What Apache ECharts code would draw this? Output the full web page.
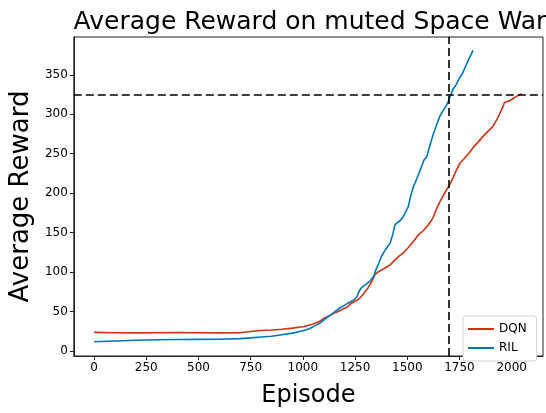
<!DOCTYPE html>
<html>
<head>
<meta charset="utf-8">
<script src="https://cdn.jsdelivr.net/npm/echarts@6/dist/echarts.min.js"></script>
<style>
html,body{margin:0;padding:0;background:#fff;}
#main{width:546px;height:413px;}
</style>
</head>
<body>
<div id="main"></div>
<script>
// 数据
var dqnX = [0,100,200,300,400,500,600,700,750,800,850,900,950,1000,1050,1080,1100,1130,1150,1170,1190,1210,1230,1250,1270,1290,1310,1330,1346,1360,1380,1400,1418,1440,1465,1480,1505,1530,1553,1575,1595,1610,1625,1640,1656,1670,1685,1704,1720,1735,1752,1770,1790,1816,1840,1863,1885,1911,1930,1945,1959,1965,1975,1990,2007,2025,2047];
var dqnY = [23.5,23,22.8,23,23.2,23,22.8,23,24.5,25.8,26.5,27.5,28.8,30.5,34,37.5,41,45,48,50,53,55,60,63,66,72,79,88,97,100,103,106,109,115,121,124,131,139,147,152,158,163,170,180,189,196,203,211,220,229,238,243,249,258,265,272,278,285,294,302,310,315,316,317,320,323,326];

var rilX = [0,100,200,300,400,500,600,700,750,800,850,900,950,1000,1030,1060,1080,1100,1120,1140,1160,1180,1200,1220,1240,1258,1268,1280,1300,1320,1338,1350,1365,1378,1395,1418,1430,1441,1465,1480,1505,1515,1529,1545,1569,1580,1593,1610,1625,1641,1655,1672,1685,1696,1708,1720,1735,1752,1765,1776,1795,1815];
var rilY = [11.5,12.5,13.5,14.2,14.5,14.6,14.8,15.5,16.5,17.5,18.5,20.5,22.5,25.5,28,32,35,39,43,47,51,55,58,61,64,68,75,80,84,88,94,103,112,121,128,137,147,160,165,170,183,195,208,218,234,242,246,262,275,287,297,305,310,316,325,332,338,347,352,359,370,381];

var xTicks = [0,250,500,750,1000,1250,1500,1750,2000];
var yTicks = [0,50,100,150,200,250,300,350];
var targetReward = 325;
var targetEpisode = 1700;

function pairs(xs, ys){
	var out = [];
	for (var i = 0; i < xs.length; i++) {
		out.push([xs[i], ys[i]]);
	}
	return out;
};

var font = 'DejaVu Sans';
var frame = '#222';
var myChart = echarts.init(document.getElementById('main'));
var option = {
	animation: false,
	title: {
		text: 'Average Reward on muted Space War',
		left: 305,
		textAlign: 'center',
		top: 5,
		textStyle: {fontFamily: font, fontSize: 25, fontWeight: 'normal', color: '#000'}
	},
	grid: {
		left: 73, right: 3, top: 37, bottom: 50,
		show: true, borderColor: frame, borderWidth: 1
	},
	legend: {
		orient: 'vertical',
		left: 463, top: 316,
		icon: 'rect',
		itemWidth: 26, itemHeight: 2,
		itemGap: 7,
		padding: [7, 10, 7, 5],
		borderColor: '#d0d0d0', borderWidth: 1, borderRadius: 3,
		backgroundColor: '#fff',
		textStyle: {fontFamily: font, fontSize: 12, color: '#000'},
		data: ['DQN', 'RIL']
	},
	xAxis: {
		type: 'value',
		min: -97, max: 2150,
		name: 'Episode',
		nameLocation: 'middle',
		nameGap: 28,
		nameTextStyle: {fontFamily: font, fontSize: 24, color: '#000'},
		splitLine: {show: false},
		axisLine: {show: true, onZero: false, lineStyle: {color: frame}},
		axisTick: {show: true, inside: false, length: 4, customValues: xTicks, lineStyle: {color: frame}},
		axisLabel: {
			customValues: xTicks, margin: 6, fontFamily: font, fontSize: 12, color: '#000',
			formatter: function(v){ return String(v); }
		}
	},
	yAxis: {
		type: 'value',
		min: -6.5, max: 398,
		name: 'Average Reward',
		nameLocation: 'middle',
		nameRotate: 90,
		nameGap: 32,
		nameTextStyle: {fontFamily: font, fontSize: 26, color: '#000'},
		splitLine: {show: false},
		axisLine: {show: true, onZero: false, lineStyle: {color: frame}},
		axisTick: {show: true, inside: false, length: 4, customValues: yTicks, lineStyle: {color: frame}},
		axisLabel: {
			customValues: yTicks, margin: 6, fontFamily: font, fontSize: 12, color: '#000',
			formatter: function(v){ return String(v); }
		}
	},
	series: [
		{
			name: 'DQN',
			type: 'line',
			showSymbol: false,
			color: '#cc3311',
			lineStyle: {width: 1.6},
			data: pairs(dqnX, dqnY),
			markLine: {
				silent: true,
				symbol: ['none', 'none'],
				label: {show: false},
				lineStyle: {color: '#000', type: [8, 4], width: 1.6},
				data: [{yAxis: targetReward}, {xAxis: targetEpisode}]
			}
		},
		{
			name: 'RIL',
			type: 'line',
			showSymbol: false,
			color: '#0077bb',
			lineStyle: {width: 1.6},
			data: pairs(rilX, rilY)
		}
	]
};
myChart.setOption(option);
</script>
</body>
</html>
